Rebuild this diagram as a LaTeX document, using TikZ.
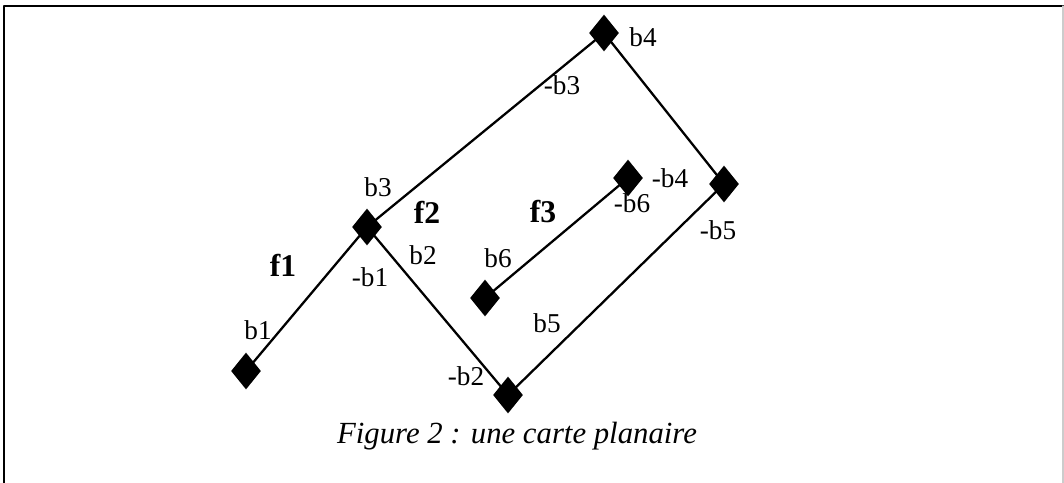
\documentclass[tikz,border=0pt]{standalone}
\usepackage{fontspec}
\setmainfont{Liberation Serif}
\usetikzlibrary{shapes.geometric}
\begin{document}
\begin{tikzpicture}[x=0.02cm, y=-0.02cm, line join=round, line cap=round]
	\tikzset{sommet/.style={diamond, fill=black, inner sep=0pt, minimum width=0.6cm, minimum height=0.74cm},
		brin/.style={font=\fontsize{15.5}{15.5}\selectfont, inner sep=0pt},
		face/.style={font=\fontsize{18}{18}\selectfont\bfseries, inner sep=0pt}}
	\useasboundingbox (0,0) rectangle (1064,483);
	% cadre
	\draw[line width=1.3pt] (4,483)--(4,6)--(1064,6);
	\draw[gray!40, line width=0.6pt] (1063,6)--(1063,483);
	
	\path
	(246,371) coordinate (A)
	(367,227) coordinate (B)
	(508,395) coordinate (C)
	(724,184) coordinate (D)
	(628,178) coordinate (E)
	(485,298) coordinate (F)
	(604,33) coordinate (G)
	;
	\draw[line width=1.3pt] (A)--(B)--(G)--(D)--(C)--(B) (E)--(F);
	\foreach \i in {A,B,C,D,E,F,G} \node[sommet] (s\i) at (\i) {};
	
	\foreach \n/\t/\p in {b1/b1/{(258,330)}, mb1/-b1/{(370,277)}, b2/b2/{(423,255)}, mb2/-b2/{(466,376)},
		b3/b3/{(378,187)}, mb3/-b3/{(562,85)}, b4/b4/{(643,37)}, mb4/-b4/{(670,178)},
		b5/b5/{(547,323)}, mb5/-b5/{(718,230)}, b6/b6/{(498,258)}, mb6/-b6/{(632,203)}}
		\node[brin] (\n) at \p {\t};
	\foreach \n/\p in {f1/{(283,265)}, f2/{(427,212)}, f3/{(543,212)}}
		\node[face] (\n) at \p {\n};
	
	\node[font=\fontsize{17.5}{17.5}\selectfont\itshape] (legende) at (517,436) {Figure 2 : une carte planaire};
\end{tikzpicture}
\end{document}
